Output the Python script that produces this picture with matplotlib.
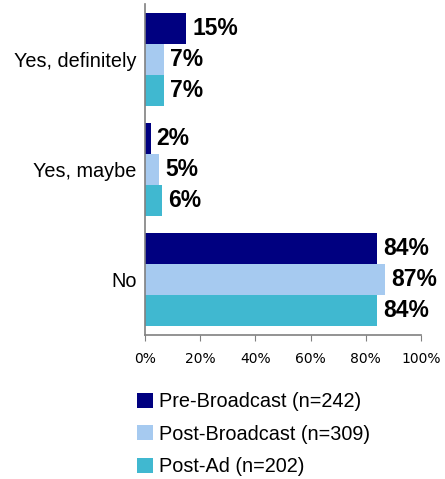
import matplotlib
matplotlib.use("Agg")
import matplotlib.pyplot as plt
import numpy as np

categories = ["Yes, definitely", "Yes, maybe", "No"]
series_names = ["Pre-Broadcast (n=242)", "Post-Broadcast (n=309)", "Post-Ad (n=202)"]
pre_broadcast = [15, 2, 84]
post_broadcast = [7, 5, 87]
post_ad = [7, 6, 84]
x_ticks = [0, 20, 40, 60, 80, 100]
x_tick_labels = ["0%", "20%", "40%", "60%", "80%", "100%"]

colors = ["#000080", "#A6CAF0", "#40B8D0"]
plt.rcParams['font.family'] = ['Liberation Sans', 'DejaVu Sans']

fig = plt.figure(figsize=(4.45, 4.79), dpi=100)
ax = fig.add_axes([145/445, 1-335/479, (421-145)/445, (335-4)/479])

series = [pre_broadcast, post_broadcast, post_ad]
bh = 0.28
y = np.arange(len(categories))
handles = []
for i, (vals, c, name) in enumerate(zip(series, colors, series_names)):
    pos = y + (i - 1) * bh
    b = ax.barh(pos, vals, height=bh, color=c, label=name)
    handles.append(b)
    for p, v in zip(pos, vals):
        ax.text(v + 2.2, p, f"{v}%", va="center", ha="left",
                fontsize=16.5, fontweight="bold", color="black")

ax.set_ylim(2.5, -0.5)
ax.set_xlim(0, 100)
ax.set_yticks(y)
ax.set_yticklabels(categories, fontsize=14.3)
ax.tick_params(axis="y", length=0, pad=6)
ax.set_xticks(x_ticks)
ax.set_xticklabels(x_tick_labels, fontsize=10, family="DejaVu Sans")
ax.tick_params(axis="x", length=4, color="#808080", pad=8, direction="out")
for s in ["top", "right"]:
    ax.spines[s].set_visible(False)
for s in ["left", "bottom"]:
    ax.spines[s].set_color("#808080")
    ax.spines[s].set_linewidth(1.2)

leg = fig.legend(handles=handles, labels=series_names, loc="upper left",
                 bbox_to_anchor=(137/445, 1-392/479), frameon=False,
                 fontsize=14.3, handlelength=0.8, handleheight=0.8,
                 handletextpad=0.3, labelspacing=0.68, borderpad=0,
                 borderaxespad=0)

fig.savefig("out.png", dpi=100)
